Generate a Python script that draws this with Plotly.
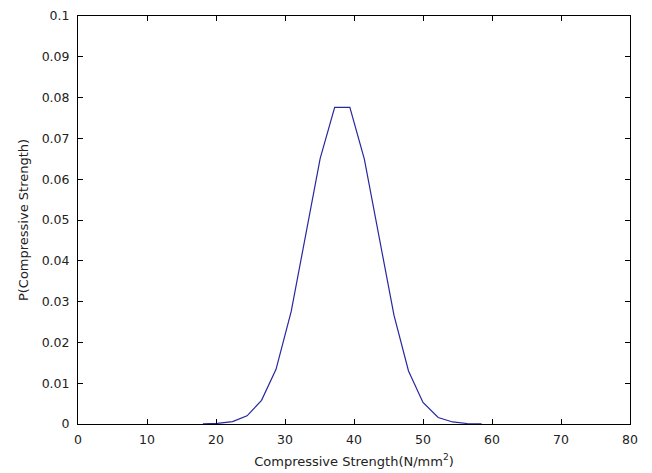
import plotly.graph_objects as go

strength = [18.1, 20.2, 22.4, 24.5, 26.6, 28.7, 30.9, 33.0, 35.1, 37.2,
            39.4, 41.5, 43.6, 45.8, 47.9, 50.0, 52.2, 54.3, 56.4, 58.5]
probability = [0.00003, 0.00014, 0.0006, 0.0020, 0.0058, 0.0134, 0.0276, 0.0461, 0.0651, 0.0776,
               0.0776, 0.0649, 0.0458, 0.0266, 0.0130, 0.0053, 0.0016, 0.0005, 0.00012, 0.00003]

x_ticks = [0, 10, 20, 30, 40, 50, 60, 70, 80]
y_ticks = [0, 0.01, 0.02, 0.03, 0.04, 0.05, 0.06, 0.07, 0.08, 0.09, 0.1]
y_labels = ["0", "0.01", "0.02", "0.03", "0.04", "0.05", "0.06", "0.07", "0.08", "0.09", "0.1"]

FONT = "DejaVu Sans, Liberation Sans, Arial"

fig = go.Figure()
fig.add_trace(go.Scatter(x=strength, y=probability, mode="lines",
                         line=dict(color="#2727a0", width=1.2), showlegend=False))

axis_common = dict(showline=True, linecolor="black", linewidth=1, mirror="ticks",
                   ticks="inside", ticklen=5, tickcolor="black", tickwidth=1,
                   showgrid=False, zeroline=False, automargin=False,
                   tickfont=dict(family=FONT, size=12.5, color="#222"))

fig.update_xaxes(range=[0, 80], tickvals=x_ticks, ticktext=[str(v) for v in x_ticks],
                 ticklabelstandoff=4,
                 title=dict(text="Compressive Strength(N/mm<sup>2</sup>)", standoff=10,
                            font=dict(family=FONT, size=13, color="#222")),
                 **axis_common)
fig.update_yaxes(range=[0, 0.1], tickvals=y_ticks, ticktext=y_labels,
                 ticklabelstandoff=5,
                 title=dict(text="P(Compressive Strength)", standoff=10,
                            font=dict(family=FONT, size=13, color="#222")),
                 **axis_common)

fig.update_layout(width=652, height=473, margin=dict(l=78, r=22, t=16, b=49),
                  paper_bgcolor="white", plot_bgcolor="white")

fig.write_html("out.html")
